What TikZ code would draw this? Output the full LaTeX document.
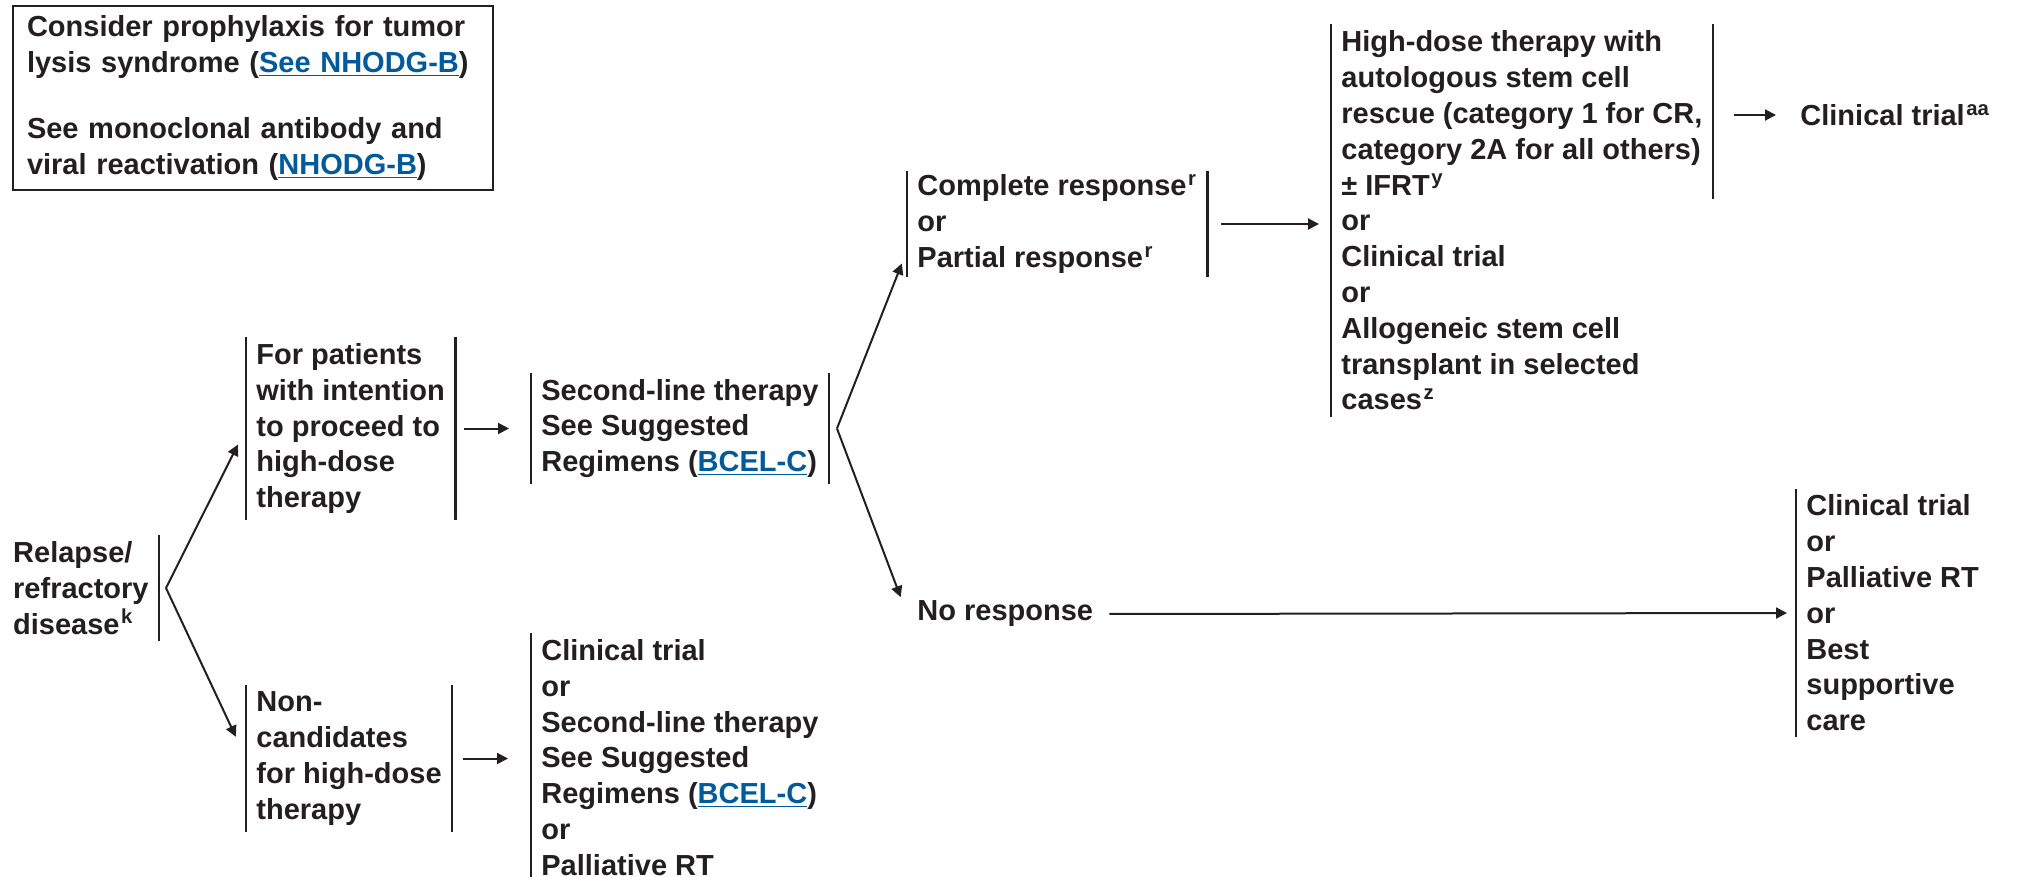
\documentclass[tikz,border=0pt]{standalone}
\usepackage{fontspec}
\setmainfont{Liberation Sans}
\usetikzlibrary{arrows.meta,calc}
\definecolor{inkgray}{RGB}{35,31,32}
\definecolor{linkblue}{RGB}{0,90,156}
\newcommand{\lnk}[1]{\textcolor{linkblue}{\underline{#1}}}
\newcommand{\fn}[1]{\kern0.8pt\textsuperscript{#1}}
\begin{document}
\begin{tikzpicture}[x=0.5pt,y=0.5pt,yscale=-1,xscale=1,
  txt/.style={inner xsep=5pt,inner ysep=3pt,align=left,text=inkgray,font=\bfseries\fontsize{14.5pt}{17.9pt}\selectfont},
  bar/.style={draw=inkgray,line width=1.3pt},
  arr/.style={draw=inkgray,line width=1pt,-{Triangle[length=5.5pt,width=5.5pt]}}]
\path[use as bounding box] (0,0) rectangle (2018,877);

%Shape: Rectangle
\draw (253,98) node (info) [txt,draw=inkgray,line width=1.4pt,minimum width=240pt,minimum height=92pt,text width=226pt,inner xsep=7pt] {Consider prophylaxis for tumor\\lysis syndrome (\lnk{See NHODG-B})\\[15.5pt]See monoclonal antibody and\\viral reactivation (\lnk{NHODG-B})};

% Text Node
\draw (159,588) node (rel) [txt,anchor=east] {Relapse/\\refractory\\disease\fn{k}};
% Text Node
\draw (246,428.5) node (fp) [txt,anchor=west] {For patients\\with intention\\to proceed to\\high-dose\\therapy};
% Text Node
\draw (246,758.5) node (nc) [txt,anchor=west] {Non-\\candidates\\for high-dose\\therapy};
% Text Node
\draw (531,428.5) node (sl) [txt,anchor=west] {Second-line therapy\\See Suggested\\Regimens (\lnk{BCEL-C})};
% Text Node
\draw (531,633) node (ct) [txt,anchor=north west] {Clinical trial\\or\\Second-line therapy\\See Suggested\\Regimens (\lnk{BCEL-C})\\or\\Palliative RT};
% Text Node
\draw (907,224) node (cr) [txt,anchor=west,inner ysep=1.5pt] {Complete response\fn{r}\\or\\Partial response\fn{r}};
% Text Node
\draw (907,614) node (nr) [txt,anchor=west] {No response};
% Text Node
\draw (1331,220.5) node (hd) [txt,anchor=west] {High-dose therapy with\\autologous stem cell\\rescue (category 1 for CR,\\category 2A for all others)\\± IFRT\fn{y}\\or\\Clinical trial\\or\\Allogeneic stem cell\\transplant in selected\\cases\fn{z}};
% Text Node
\draw (1790,115) node (ctaa) [txt,anchor=west] {Clinical trial\fn{aa}};
% Text Node
\draw (1796,613) node (fin) [txt,anchor=west] {Clinical trial\\or\\Palliative RT\\or\\Best\\supportive\\care};

%Straight Lines
\draw [bar] (rel.north east) -- (rel.south east);
\draw [bar] (fp.north west) -- (fp.south west) (fp.north east) -- (fp.south east);
\draw [bar] (nc.north west) -- (nc.south west) (nc.north east) -- (nc.south east);
\draw [bar] (sl.north west) -- (sl.south west) (sl.north east) -- (sl.south east);
\draw [bar] (ct.north west) -- (ct.south west);
\draw [bar] (cr.north west) -- (cr.south west) (cr.north east) -- (cr.south east);
\draw [bar] (hd.north west) -- (hd.south west) (hd.north east) -- ($(hd.north east)+(0,175)$);
\draw [bar] (fin.north west) -- (fin.south west);

\coordinate (relfork) at ($(rel.east)+(7,0)$);
\coordinate (slfork) at ($(sl.east)+(8,0)$);
%Arrows
\draw [arr,shorten >=9pt] (relfork) -- (fp.west);
\draw [arr,shorten >=12pt] (relfork) -- (nc.west);
\draw [arr,shorten <=4.5pt,shorten >=11pt] (fp.east) -- (sl.west);
\draw [arr,shorten <=5.5pt,shorten >=11.5pt] (nc.east) -- (nc.east -| ct.west);
\draw [arr,shorten >=7pt] (slfork) -- ($(cr.west)!0.5!(cr.south west)$);
\draw [arr,shorten >=9pt] (slfork) -- (nr.west);
\draw [arr,shorten <=7pt,shorten >=6pt] (cr.east) -- (cr.east -| hd.west);
\draw [arr,shorten <=10.5pt,shorten >=7pt] (ctaa.west -| hd.east) -- (ctaa.west);
\draw [arr,shorten <=3pt,shorten >=4.5pt] (nr.east) -- (fin.west);

\end{tikzpicture}
\end{document}
